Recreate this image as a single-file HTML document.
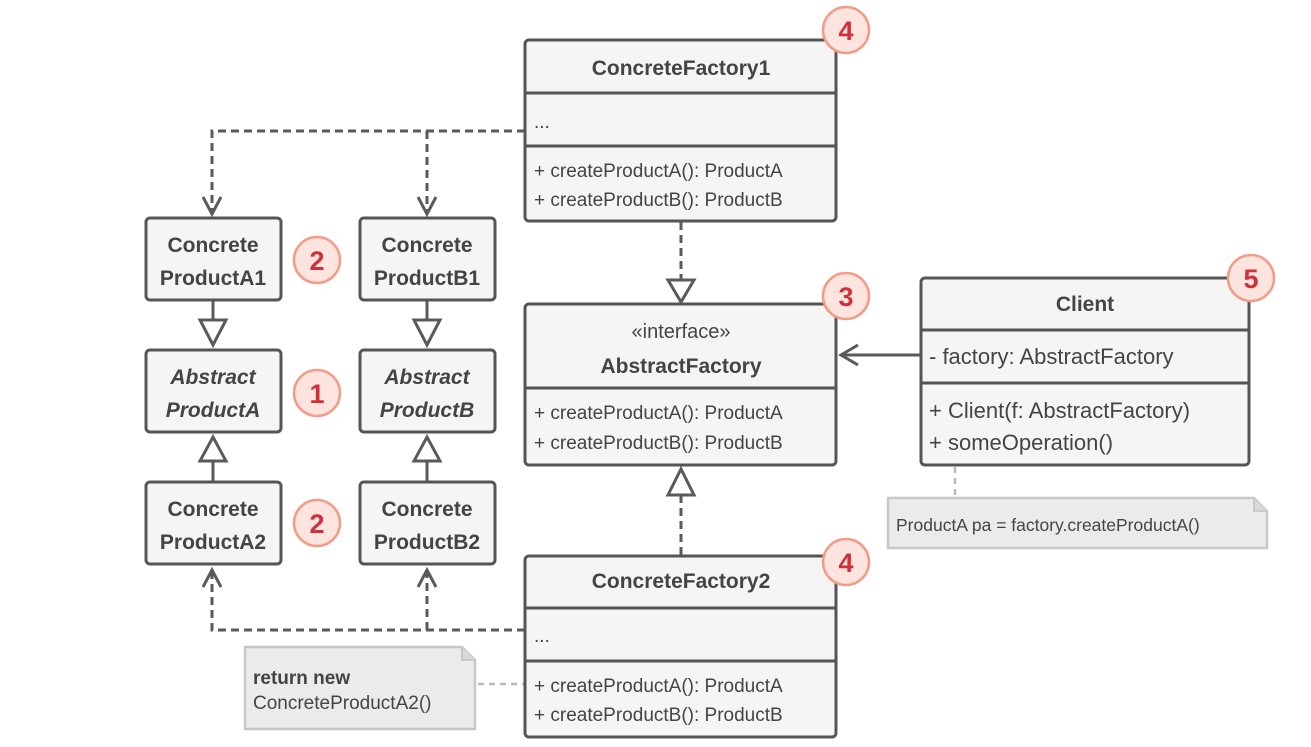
<!DOCTYPE html>
<html><head><meta charset="utf-8"><style>
html,body{margin:0;padding:0;background:#fff;}
svg{display:block;}
text{font-family:"Liberation Sans",sans-serif;fill:#444;}
.b{font-weight:bold;font-size:21px;}
.m{font-size:19px;}
.bd{font-weight:bold;font-size:27px;fill:#d0303a;}
</style></head><body>
<svg width="1311" height="747" viewBox="0 0 1311 747" xmlns="http://www.w3.org/2000/svg">
<g fill="none" stroke="#5a5a5a" stroke-width="3">
<path d="M525 131 H212 V212" stroke-dasharray="8,5"/>
<path d="M427 131 V212" stroke-dasharray="8,5"/>
<path d="M203 197 L212 214 L221 197 M418 197 L427 214 L436 197"/>
<path d="M525 630 H212 V570" stroke-dasharray="8,5"/>
<path d="M427 630 V570" stroke-dasharray="8,5"/>
<path d="M203 587 L212 570 L221 587 M418 587 L427 570 L436 587"/>
<path d="M681 222 V281" stroke-dasharray="8,5"/>
<path d="M668 280 L694 280 L681 302 Z"/>
<path d="M681 555 V495" stroke-dasharray="8,5"/>
<path d="M668 495 L694 495 L681 469 Z"/>
<path d="M213 300 V320 M427 300 V320"/>
<path d="M200 320 L226 320 L213 345 Z M414 320 L440 320 L427 345 Z"/>
<path d="M213 482 V461 M427 482 V461"/>
<path d="M200 461 L226 461 L213 437 Z M414 461 L440 461 L427 437 Z"/>
<path d="M920 355 H842 M858 345 L841 355 L858 365"/>
</g>
<g stroke="#bbb" stroke-width="2.5" stroke-dasharray="6,5" fill="none">
<path d="M478 684 H525"/>
<path d="M955 467 V498"/>
</g>
<g fill="#ebebeb" stroke="#c8c8c8" stroke-width="2.5">
<path d="M245 647 H462 L475 660 V729 H245 Z"/>
<path d="M888 498 H1254 L1267 511 V548 H888 Z"/>
</g>
<path d="M462 647 V660 H475" fill="#d8d8d8" stroke="#c8c8c8" stroke-width="2"/>
<path d="M1254 498 V511 H1267" fill="#d8d8d8" stroke="#c8c8c8" stroke-width="2"/>
<text x="253" y="684" style="font-weight:bold;font-size:19px">return new</text>
<text x="253" y="709" style="font-size:19px">ConcreteProductA2()</text>
<text x="896" y="531" style="font-size:17.5px">ProductA pa = factory.createProductA()</text>
<g fill="#f5f5f5" stroke="#555" stroke-width="3">
<rect x="146" y="218" width="135" height="82" rx="4"/>
<rect x="360" y="218" width="135" height="82" rx="4"/>
<rect x="146" y="350" width="135" height="82" rx="4"/>
<rect x="360" y="350" width="135" height="82" rx="4"/>
<rect x="146" y="482" width="135" height="82" rx="4"/>
<rect x="360" y="482" width="135" height="82" rx="4"/>
<rect x="525" y="40" width="311" height="181" rx="4"/>
<rect x="525" y="304" width="311" height="161" rx="4"/>
<rect x="525" y="556" width="311" height="181" rx="4"/>
<rect x="921" y="278" width="328" height="187" rx="4"/>
</g>
<g stroke="#555" stroke-width="3">
<path d="M525 93 H836 M525 146 H836"/>
<path d="M525 388 H836"/>
<path d="M525 608 H836 M525 661 H836"/>
<path d="M921 330 H1249 M921 383 H1249"/>
</g>
<g text-anchor="middle">
<text x="213" y="252" class="b">Concrete</text><text x="213" y="285" class="b">ProductA1</text>
<text x="427" y="252" class="b">Concrete</text><text x="427" y="285" class="b">ProductB1</text>
<text x="213" y="384" class="b" font-style="italic">Abstract</text><text x="213" y="417" class="b" font-style="italic">ProductA</text>
<text x="427" y="384" class="b" font-style="italic">Abstract</text><text x="427" y="417" class="b" font-style="italic">ProductB</text>
<text x="213" y="516" class="b">Concrete</text><text x="213" y="549" class="b">ProductA2</text>
<text x="427" y="516" class="b">Concrete</text><text x="427" y="549" class="b">ProductB2</text>
<text x="681" y="75" class="b">ConcreteFactory1</text>
<text x="681" y="338" style="font-size:20px">«interface»</text>
<text x="681" y="373" class="b">AbstractFactory</text>
<text x="681" y="588" class="b">ConcreteFactory2</text>
<text x="1085" y="311" class="b">Client</text>
</g>
<text x="534" y="128" class="m">...</text>
<text x="534" y="177" class="m">+ createProductA(): ProductA</text>
<text x="534" y="206" class="m">+ createProductB(): ProductB</text>
<text x="534" y="419" class="m">+ createProductA(): ProductA</text>
<text x="534" y="449" class="m">+ createProductB(): ProductB</text>
<text x="534" y="642" class="m">...</text>
<text x="534" y="692" class="m">+ createProductA(): ProductA</text>
<text x="534" y="721" class="m">+ createProductB(): ProductB</text>
<text x="929" y="364" style="font-size:22px">- factory: AbstractFactory</text>
<text x="929" y="418" style="font-size:22px">+ Client(f: AbstractFactory)</text>
<text x="929" y="450" style="font-size:22px">+ someOperation()</text>
<g fill="#fde4de" stroke="#f49a86" stroke-width="2.5">
<circle cx="317" cy="260" r="23"/>
<circle cx="317" cy="393" r="23"/>
<circle cx="317" cy="523" r="23"/>
<circle cx="846" cy="30" r="23"/>
<circle cx="846" cy="296" r="23"/>
<circle cx="846" cy="562" r="23"/>
<circle cx="1251" cy="278" r="23"/>
</g>
<g text-anchor="middle">
<text x="317" y="270" class="bd">2</text>
<text x="317" y="403" class="bd">1</text>
<text x="317" y="533" class="bd">2</text>
<text x="846" y="40" class="bd">4</text>
<text x="846" y="306" class="bd">3</text>
<text x="846" y="572" class="bd">4</text>
<text x="1251" y="288" class="bd">5</text>
</g>
</svg>
</body></html>
